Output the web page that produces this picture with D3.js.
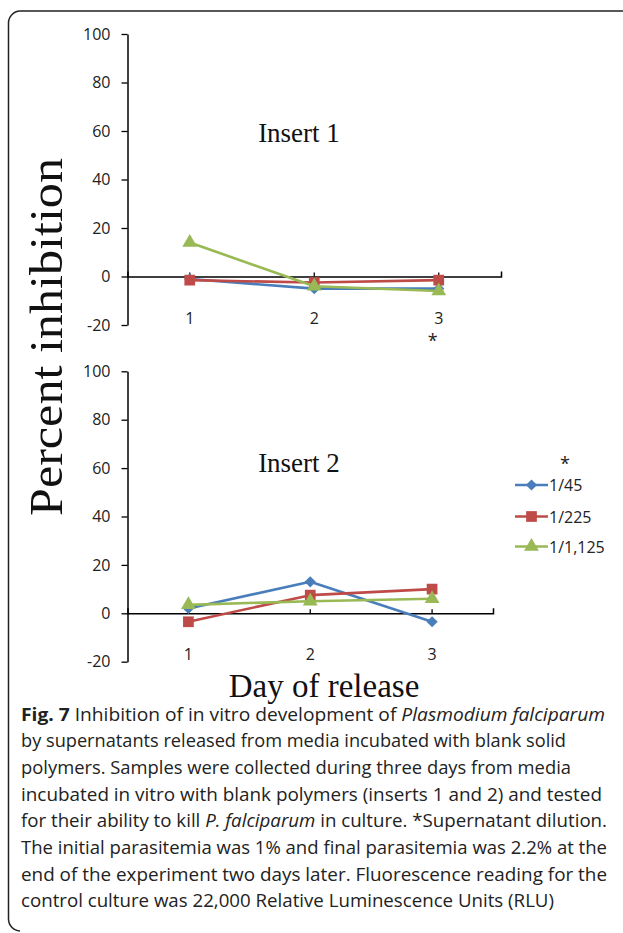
<!DOCTYPE html>
<html>
<head>
<meta charset="utf-8">
<script src="https://cdn.jsdelivr.net/npm/d3@7/dist/d3.min.js"></script>
<style>
  html, body { margin: 0; padding: 0; background: #fff; }
  svg { display: block; }
</style>
</head>
<body>
<svg id="chart" width="623" height="933"></svg>
<script>
// ---------------- DATA ----------------
const days = ["1", "2", "3"];
const seriesNames = ["1/45", "1/225", "1/1,125"];
const yTicks = [-20, 0, 20, 40, 60, 80, 100];
// Insert 1
const insert1_45 = [-1, -5, -5];
const insert1_225 = [-1.5, -2.5, -1.5];
const insert1_1125 = [14, -4, -6];
// Insert 2
const insert2_45 = [2, 13, -3.5];
const insert2_225 = [-3.5, 7.5, 10];
const insert2_1125 = [3.5, 5, 6];
const panelTitles = ["Insert 1", "Insert 2"];
const yAxisTitle = "Percent inhibition";
const xAxisTitle = "Day of release";
const captionLines = [
  [{t: "Fig. 7", b: true}, {t: " Inhibition of in vitro development of "}, {t: "Plasmodium falciparum", i: true}],
  [{t: "by supernatants released from media incubated with blank solid"}],
  [{t: "polymers. Samples were collected during three days from media"}],
  [{t: "incubated in vitro with blank polymers (inserts 1 and 2) and tested"}],
  [{t: "for their ability to kill "}, {t: "P. falciparum", i: true}, {t: " in culture. *Supernatant dilution."}],
  [{t: "The initial parasitemia was 1% and final parasitemia was 2.2% at the"}],
  [{t: "end of the experiment two days later. Fluorescence reading for the"}],
  [{t: "control culture was 22,000 Relative Luminescence Units (RLU)"}]
];

// ---------------- STYLE / LAYOUT ----------------
const colors = ["#4A7EBB", "#BE4B48", "#98B954"];
const shapes = [d3.symbolDiamond2, d3.symbolSquare, d3.symbolTriangle];
const shapeSizes = [80, 115, 95];
const tickFont = "'Open Sans', 'DejaVu Sans', sans-serif";
const serif = "'Liberation Serif', 'Times New Roman', serif";

const svg = d3.select("#chart");

// frame
svg.append("path")
  .attr("d", "M 640 11 H 20 A 12 12 0 0 0 8.5 23 V 919 A 12 12 0 0 0 20 931")
  .attr("fill", "none").attr("stroke", "#222").attr("stroke-width", 1.5);

const panels = [
  {data: [insert1_45, insert1_225, insert1_1125], x0: 127.5, x1: 501, yBottom: 325, yTop: 34, title: panelTitles[0], titleY: 142, star: true},
  {data: [insert2_45, insert2_225, insert2_1125], x0: 127.5, x1: 493, yBottom: 661.7, yTop: 371.3, title: panelTitles[1], titleY: 471.5, star: false}
];

panels.forEach(p => {
  const x = d3.scaleBand().domain(days).range([p.x0, p.x1]).padding(0);
  const y = d3.scaleLinear().domain([-20, 100]).range([p.yBottom, p.yTop]);
  const g = svg.append("g");

  // y axis
  const yAxis = g.append("g")
    .attr("transform", `translate(${p.x0},0)`)
    .call(d3.axisLeft(y).tickValues(yTicks).tickSize(6).tickSizeOuter(0).tickPadding(11).tickFormat(d => String(d)));
  yAxis.select(".domain").attr("stroke", "#000").attr("stroke-width", 1.5);
  yAxis.selectAll(".tick line").attr("stroke", "#000").attr("stroke-width", 1.3);
  yAxis.selectAll(".tick text").attr("font-family", tickFont).attr("font-size", 16).attr("fill", "#222");

  // x axis at y=0
  const xAxis = g.append("g")
    .attr("transform", `translate(0,${y(0)})`)
    .call(d3.axisTop(x).tickSize(4).tickSizeOuter(5).tickFormat(""));
  xAxis.select(".domain").attr("stroke", "#000").attr("stroke-width", 1.5);
  xAxis.selectAll(".tick line").attr("stroke", "#000").attr("stroke-width", 1.3);

  // x labels
  g.selectAll(".xl").data(days).enter().append("text")
    .attr("x", d => x(d) + x.bandwidth() / 2)
    .attr("y", y(0) + 47)
    .attr("text-anchor", "middle")
    .attr("font-family", tickFont).attr("font-size", 16).attr("fill", "#222")
    .text(d => d);

  // title
  g.append("text").attr("x", 299).attr("y", p.titleY)
    .attr("text-anchor", "middle").attr("font-family", serif).attr("font-size", 27).attr("fill", "#111")
    .text(p.title);

  if (p.star) {
    g.append("text").attr("x", x("3") + x.bandwidth() / 2 - 6).attr("y", y(0) + 70)
      .attr("text-anchor", "middle").attr("font-family", tickFont).attr("font-size", 18).attr("fill", "#222")
      .text("*");
  }

  // series
  const line = d3.line().x((d, i) => x(days[i]) + x.bandwidth() / 2).y(d => y(d));
  p.data.forEach((vals, si) => {
    g.append("path").datum(vals).attr("d", line)
      .attr("fill", "none").attr("stroke", colors[si]).attr("stroke-width", 2.6).attr("stroke-linejoin", "round");
    g.selectAll(".m" + si).data(vals).enter().append("path")
      .attr("transform", (d, i) => `translate(${x(days[i]) + x.bandwidth() / 2},${y(d)})`)
      .attr("d", d3.symbol().type(shapes[si]).size(shapeSizes[si]))
      .attr("fill", colors[si]);
  });
});

// legend
const legY = [485, 516.5, 546.5];
svg.append("text").attr("x", 565).attr("y", 470).attr("text-anchor", "middle")
  .attr("font-family", tickFont).attr("font-size", 18).attr("fill", "#222").text("*");
seriesNames.forEach((name, i) => {
  svg.append("line").attr("x1", 515).attr("x2", 548).attr("y1", legY[i]).attr("y2", legY[i])
    .attr("stroke", colors[i]).attr("stroke-width", 2.6);
  svg.append("path").attr("transform", `translate(531.5,${legY[i]})`)
    .attr("d", d3.symbol().type(shapes[i]).size(shapeSizes[i])).attr("fill", colors[i]);
  svg.append("text").attr("x", 549).attr("y", legY[i] + 6)
    .attr("font-family", tickFont).attr("font-size", 16).attr("fill", "#222").text(name);
});

// axis titles
svg.append("text")
  .attr("transform", "translate(62,337) rotate(-90)")
  .attr("text-anchor", "middle").attr("font-family", serif).attr("font-size", 46).attr("fill", "#111")
  .attr("textLength", 358).attr("lengthAdjust", "spacingAndGlyphs")
  .text(yAxisTitle);
svg.append("text").attr("x", 324).attr("y", 696.5)
  .attr("text-anchor", "middle").attr("font-family", serif).attr("font-size", 33).attr("fill", "#111")
  .text(xAxisTitle);

// caption
const capEnds = [605, 566, 571, 602, 607, 607, 607, 554];
captionLines.forEach((parts, li) => {
  const t = svg.append("text").attr("x", 21).attr("y", 720.5 + li * 26.7)
    .attr("font-family", tickFont).attr("font-size", 17.5).attr("fill", "#222")
    .attr("textLength", capEnds[li] - 21).attr("lengthAdjust", "spacingAndGlyphs");
  parts.forEach(pt => {
    t.append("tspan").text(pt.t)
      .attr("font-weight", pt.b ? "bold" : null)
      .attr("font-style", pt.i ? "italic" : null);
  });
});
</script>
</body>
</html>
